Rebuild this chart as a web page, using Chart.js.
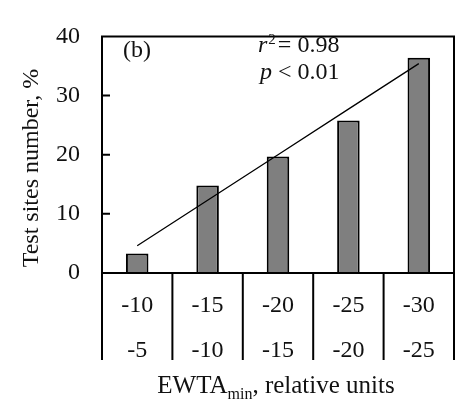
<!DOCTYPE html>
<html>
<head>
<meta charset="utf-8">
<script src="https://cdn.jsdelivr.net/npm/chart.js@4/dist/chart.umd.min.js"></script>
<style>
html,body{margin:0;padding:0;background:#fff;}
#wrap{width:461px;height:405px;position:relative;}
</style>
</head>
<body>
<div id="wrap"><canvas id="c" width="461" height="405"></canvas></div>
<script>
// ---- data ----
const categories = [['-10','-5'], ['-15','-10'], ['-20','-15'], ['-25','-20'], ['-30','-25']];
const siteShare = [3.3, 14.8, 19.7, 25.8, 36.4];
const trendLine = [4.6, 12.3, 20.0, 27.7, 35.4];
const yTicks = [0, 10, 20, 30, 40];
const yTitle = 'Test sites number, %';
const xTitleMain = 'EWTA';
const xTitleSub = 'min';
const xTitleRest = ', relative units';
const panelLabel = '(b)';
const statR2 = '0.98';
const statP = '0.01';

const FONT = '"Liberation Serif", "Times New Roman", serif';
const INK = '#111';

const framePlugin = {
  id: 'frame',
  afterDraw(chart) {
    const ctx = chart.ctx;
    const a = chart.chartArea;
    const xs = chart.scales.x;
    const ys = chart.scales.y;
    const bottomExt = 360;
    ctx.save();
    ctx.strokeStyle = '#000';
    ctx.lineWidth = 2;
    // frame
    ctx.beginPath();
    ctx.moveTo(a.left, bottomExt);
    ctx.lineTo(a.left, a.top);
    ctx.lineTo(a.right, a.top);
    ctx.lineTo(a.right, bottomExt);
    ctx.moveTo(a.left, a.bottom);
    ctx.lineTo(a.right, a.bottom);
    ctx.stroke();
    // category separators below the axis
    const n = categories.length;
    ctx.beginPath();
    for (let i = 1; i < n; i++) {
      const xp = (xs.getPixelForValue(i - 1) + xs.getPixelForValue(i)) / 2;
      ctx.moveTo(xp, a.bottom);
      ctx.lineTo(xp, bottomExt);
    }
    ctx.stroke();
    // inward y ticks
    ctx.beginPath();
    yTicks.forEach(v => {
      if (v === 0 || v === 40) return;
      const yp = ys.getPixelForValue(v);
      ctx.moveTo(a.left, yp);
      ctx.lineTo(a.left + 8, yp);
    });
    ctx.stroke();

    ctx.fillStyle = INK;
    ctx.textBaseline = 'alphabetic';
    // y title
    ctx.save();
    ctx.translate(38, 168);
    ctx.rotate(-Math.PI / 2);
    ctx.textAlign = 'center';
    ctx.font = '24px ' + FONT;
    ctx.fillText(yTitle, 0, 0);
    ctx.restore();

    // x title with subscript
    ctx.textAlign = 'left';
    ctx.font = '25px ' + FONT;
    const w1 = ctx.measureText(xTitleMain).width;
    const w3 = ctx.measureText(xTitleRest).width;
    ctx.font = '16px ' + FONT;
    const w2 = ctx.measureText(xTitleSub).width;
    let x0 = 276 - (w1 + w2 + w3) / 2;
    ctx.font = '25px ' + FONT;
    ctx.fillText(xTitleMain, x0, 393);
    ctx.font = '16px ' + FONT;
    ctx.fillText(xTitleSub, x0 + w1, 399);
    ctx.font = '25px ' + FONT;
    ctx.fillText(xTitleRest, x0 + w1 + w2, 393);

    // panel label
    ctx.font = '24px ' + FONT;
    ctx.fillText(panelLabel, 123, 57);

    // r^2
    let x = 258;
    ctx.font = 'italic 24px ' + FONT;
    ctx.fillText('r', x, 52);
    x += ctx.measureText('r').width + 1;
    ctx.font = '15px ' + FONT;
    ctx.fillText('2', x, 44);
    x += ctx.measureText('2').width + 2;
    ctx.font = '24px ' + FONT;
    ctx.fillText('= ' + statR2, x, 52);

    // p
    x = 260;
    ctx.font = 'italic 24px ' + FONT;
    ctx.fillText('p', x, 79);
    x += ctx.measureText('p').width;
    ctx.font = '24px ' + FONT;
    ctx.fillText(' < ' + statP, x, 79);
    ctx.restore();
  }
};

new Chart(document.getElementById('c'), {
  data: {
    labels: categories,
    datasets: [
      {
        type: 'line',
        data: trendLine,
        borderColor: '#000',
        borderWidth: 1.3,
        pointRadius: 0,
        fill: false,
        tension: 0,
        order: 0
      },
      {
        type: 'bar',
        data: siteShare,
        backgroundColor: '#7f7f7f',
        borderColor: '#000',
        borderWidth: 2,
        categoryPercentage: 1,
        barPercentage: 0.32,
        order: 1
      }
    ]
  },
  options: {
    responsive: false,
    animation: false,
    devicePixelRatio: 1,
    layout: { padding: { left: 0, top: 16, right: 7, bottom: 0 } },
    plugins: { legend: { display: false }, tooltip: { enabled: false } },
    scales: {
      x: {
        offset: true,
        grid: { display: false, drawTicks: false },
        border: { display: false },
        ticks: {
          color: INK,
          font: { family: FONT, size: 24, lineHeight: 1.85 },
          padding: 11,
          maxRotation: 0,
          autoSkip: false
        },
        afterFit(s) { s.height = 132; }
      },
      y: {
        min: 0,
        max: 40,
        grid: { display: false, drawTicks: false },
        border: { display: false },
        ticks: {
          stepSize: 10,
          color: INK,
          font: { family: FONT, size: 24 },
          padding: 22
        },
        afterFit(s) { s.width = 102; }
      }
    }
  },
  plugins: [framePlugin]
});
</script>
</body>
</html>
